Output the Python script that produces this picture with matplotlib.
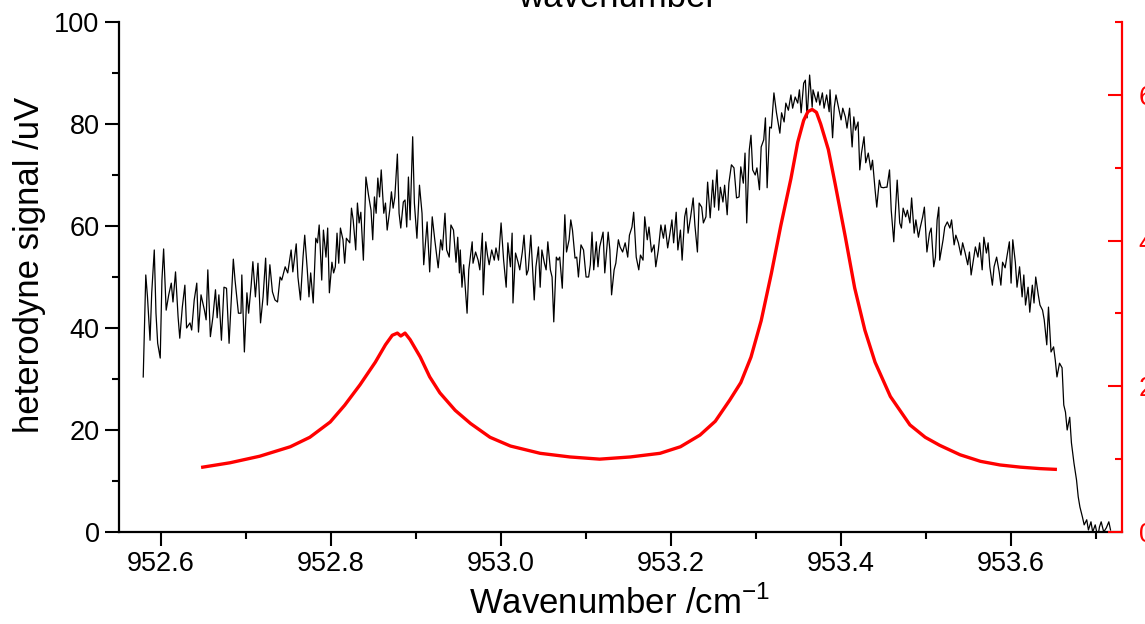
import matplotlib
matplotlib.use("Agg")
import matplotlib.pyplot as plt
from matplotlib.ticker import MultipleLocator, FormatStrFormatter

plt.rcParams['font.family'] = ['Liberation Sans', 'DejaVu Sans']
plt.rcParams['mathtext.fontset'] = 'custom'
plt.rcParams['mathtext.rm'] = 'Liberation Sans'

# ---- heterodyne signal (left axis, uV) ----
sig_x = [
 952.579, 952.582, 952.584, 952.587, 952.589, 952.592, 952.594, 952.596, 952.599, 952.601,
 952.603, 952.606, 952.609, 952.612, 952.614, 952.617, 952.620, 952.622, 952.625, 952.628,
 952.630, 952.634, 952.636, 952.639, 952.642, 952.644, 952.647, 952.651, 952.653, 952.655,
 952.658, 952.661, 952.664, 952.666, 952.668, 952.671, 952.674, 952.677, 952.680, 952.685,
 952.687, 952.691, 952.694, 952.695, 952.698, 952.701, 952.703, 952.706, 952.708, 952.711,
 952.714, 952.717, 952.720, 952.723, 952.725, 952.728, 952.731, 952.734, 952.737, 952.740,
 952.742, 952.746, 952.749, 952.753, 952.755, 952.759, 952.761,
 952.764, 952.767, 952.769, 952.772, 952.774, 952.776, 952.779, 952.782, 952.784, 952.786,
 952.789, 952.791, 952.794, 952.796, 952.798, 952.801, 952.803, 952.805, 952.807, 952.809,
 952.811, 952.814, 952.816, 952.818, 952.822, 952.824, 952.826, 952.829, 952.831, 952.833,
 952.835, 952.838, 952.841, 952.844, 952.847, 952.849, 952.851, 952.853, 952.855, 952.857,
 952.859, 952.862, 952.864, 952.866, 952.869, 952.871, 952.873, 952.875, 952.878, 952.880,
 952.882, 952.885, 952.887, 952.889, 952.891, 952.893, 952.896, 952.898, 952.901, 952.904,
 952.907, 952.909, 952.913, 952.916, 952.919, 952.922, 952.926, 952.929, 952.931, 952.934,
 952.936, 952.939, 952.941, 952.944, 952.947, 952.949, 952.951,
 952.952, 952.954, 952.956, 952.960, 952.962, 952.966, 952.967, 952.970, 952.973, 952.975,
 952.978, 952.979, 952.982, 952.984, 952.986, 952.989, 952.992, 952.994, 952.997, 953.000,
 953.003, 953.006, 953.008, 953.011, 953.013, 953.014, 953.017, 953.020, 953.022, 953.025,
 953.027, 953.030, 953.032, 953.035, 953.037, 953.039, 953.041, 953.044, 953.046, 953.048,
 953.051, 953.053, 953.055, 953.058, 953.060, 953.062, 953.065, 953.067, 953.069, 953.072,
 953.075, 953.077, 953.080, 953.082, 953.084, 953.087, 953.089, 953.091, 953.094, 953.097,
 953.100, 953.103, 953.105, 953.107, 953.109, 953.112, 953.114, 953.116, 953.120, 953.122,
 953.126, 953.128, 953.130, 953.133, 953.135, 953.138, 953.140,
 953.143, 953.146, 953.149, 953.151, 953.154, 953.156, 953.159, 953.162, 953.164, 953.167,
 953.169, 953.172, 953.174, 953.177, 953.180, 953.182, 953.185, 953.188, 953.191, 953.193,
 953.196, 953.198, 953.201, 953.203, 953.206, 953.208, 953.211, 953.213, 953.216, 953.218,
 953.220, 953.223, 953.226, 953.228, 953.231, 953.233, 953.236, 953.238, 953.241, 953.243,
 953.246, 953.249, 953.251, 953.254, 953.256, 953.258, 953.261, 953.263, 953.266, 953.268,
 953.271, 953.274, 953.277, 953.280, 953.282, 953.285, 953.287, 953.289, 953.292, 953.294,
 953.296, 953.299, 953.301, 953.304, 953.306, 953.309, 953.311, 953.313, 953.316, 953.318,
 953.321, 953.324, 953.326,
 953.328, 953.330, 953.333, 953.335, 953.338, 953.341, 953.343, 953.346, 953.349, 953.351,
 953.353, 953.356, 953.358, 953.360, 953.363, 953.366, 953.367, 953.371, 953.373, 953.375,
 953.378, 953.380, 953.383, 953.386, 953.387, 953.390, 953.392, 953.394, 953.397, 953.400,
 953.402, 953.405, 953.407, 953.410, 953.413, 953.415, 953.417, 953.420, 953.422, 953.424,
 953.427, 953.429, 953.432, 953.435, 953.437, 953.440, 953.442, 953.445, 953.447, 953.450,
 953.452, 953.454, 953.457, 953.459, 953.462, 953.464, 953.466, 953.469, 953.471, 953.473,
 953.476, 953.478, 953.481, 953.483, 953.486, 953.488, 953.491, 953.493, 953.496, 953.498,
 953.501, 953.504, 953.506, 953.509, 953.511, 953.513, 953.515,
 953.516, 953.520, 953.522, 953.525, 953.528, 953.530, 953.533, 953.535, 953.538, 953.541,
 953.543, 953.546, 953.549, 953.551, 953.553, 953.556, 953.558, 953.561, 953.563, 953.566,
 953.568, 953.571, 953.573, 953.575, 953.578, 953.580, 953.583, 953.586, 953.588, 953.590,
 953.593, 953.595, 953.598, 953.600, 953.602, 953.605, 953.607, 953.610, 953.613, 953.615,
 953.617, 953.620, 953.622, 953.625, 953.627, 953.629, 953.632, 953.634, 953.637, 953.639,
 953.642, 953.644, 953.647, 953.650, 953.652, 953.654, 953.657, 953.660, 953.662, 953.664,
 953.666, 953.669, 953.671, 953.674, 953.677, 953.679, 953.681, 953.684, 953.686, 953.689,
 953.691, 953.694, 953.696, 953.699, 953.702, 953.704, 953.706, 953.709, 953.712, 953.715,
 953.717,
]
sig_y = [
 30.4, 50.4, 46.1, 37.6, 46.9, 55.3, 42.9, 37.0, 34.1, 49.4,
 55.5, 43.5, 46.5, 48.8, 45.1, 51.0, 42.2, 38.0, 44.1, 48.4,
 40.0, 41.0, 39.6, 45.5, 48.8, 39.2, 46.5, 43.5, 41.6, 51.4,
 38.3, 42.2, 47.5, 42.0, 46.5, 37.6, 48.0, 47.8, 37.0, 53.5,
 49.4, 42.9, 42.9, 50.4, 35.3, 46.9, 42.9, 48.4, 53.0, 46.1,
 52.7, 41.0, 46.1, 53.7, 44.5, 52.4, 47.1, 45.5, 45.1, 50.0,
 49.4, 52.0, 50.8, 55.3, 51.0, 56.5, 50.0,
 45.5, 53.9, 58.2, 51.4, 46.1, 50.8, 44.9, 57.6, 56.7, 60.2,
 49.4, 59.2, 53.9, 59.6, 46.9, 52.9, 50.8, 52.0, 58.6, 52.7,
 59.6, 57.3, 52.7, 57.6, 56.7, 63.5, 61.2, 55.3, 64.5, 60.6,
 62.7, 53.3, 69.6, 66.1, 63.1, 57.3, 65.7, 62.5, 69.4, 65.7,
 71.0, 62.5, 64.5, 59.2, 63.1, 66.7, 63.5, 65.7, 74.1, 62.5,
 59.6, 64.7, 65.1, 59.8, 69.6, 61.2, 77.5, 64.5, 57.6, 68.0,
 62.5, 52.4, 60.8, 51.0, 61.8, 57.3, 51.8, 57.3, 55.3, 62.5,
 55.3, 53.9, 60.2, 59.2, 52.9, 57.8, 50.8,
 55.3, 48.0, 52.4, 42.9, 51.4, 56.9, 52.7, 54.9, 53.3, 51.4,
 58.6, 46.5, 56.9, 54.3, 52.4, 55.3, 53.3, 55.7, 53.3, 60.6,
 53.3, 48.0, 56.7, 52.0, 58.6, 44.9, 54.7, 52.9, 51.4, 54.9,
 58.2, 50.4, 51.4, 58.2, 52.0, 45.5, 52.0, 55.9, 48.0, 55.3,
 52.7, 51.4, 56.9, 51.4, 50.0, 41.2, 53.9, 53.3, 53.9, 47.8,
 62.2, 54.9, 57.3, 61.2, 59.2, 53.7, 53.9, 50.0, 56.3, 55.3,
 50.0, 50.0, 52.4, 58.8, 51.4, 56.9, 52.0, 55.9, 58.8, 50.8,
 58.8, 55.3, 46.5, 51.4, 52.7, 57.3, 55.9,
 54.9, 56.7, 53.9, 58.2, 59.8, 62.7, 53.9, 51.4, 54.3, 53.3,
 61.8, 57.3, 59.8, 54.9, 56.3, 52.0, 55.3, 60.2, 57.6, 60.2,
 55.7, 57.8, 61.2, 56.7, 62.7, 55.3, 59.2, 53.3, 61.8, 63.5,
 58.6, 61.8, 65.5, 60.2, 54.9, 64.5, 63.7, 60.6, 61.8, 68.6,
 61.6, 69.0, 63.7, 71.0, 63.1, 67.6, 64.7, 68.0, 62.2, 68.4,
 72.0, 71.4, 65.5, 65.7, 71.6, 68.4, 74.3, 60.6, 74.9, 77.8,
 71.0, 70.0, 71.4, 67.1, 75.5, 76.9, 81.2, 67.5, 79.4, 79.2,
 86.1, 82.2, 80.2,
 78.2, 82.2, 80.4, 84.1, 82.7, 85.7, 83.1, 85.3, 84.1, 86.7,
 82.2, 88.0, 88.6, 81.2, 89.6, 83.3, 86.7, 84.3, 86.3, 83.7,
 86.1, 83.1, 85.7, 82.4, 86.7, 77.3, 83.3, 85.7, 83.3, 80.8,
 83.1, 81.4, 79.2, 83.1, 75.5, 81.4, 78.8, 80.4, 71.0, 74.3,
 77.5, 72.4, 74.3, 71.0, 72.9, 67.1, 63.7, 69.0, 67.6, 67.5,
 67.6, 67.6, 71.0, 63.1, 56.9, 63.1, 69.0, 60.6, 59.6, 63.5,
 61.8, 63.1, 60.6, 65.5, 58.6, 61.2, 57.8, 59.6, 61.8, 63.7,
 54.9, 58.6, 59.6, 52.0, 53.9, 61.2, 63.7,
 53.3, 57.3, 59.8, 60.8, 59.6, 61.2, 56.3, 58.2, 56.7, 54.3,
 56.7, 54.7, 52.4, 54.9, 50.4, 53.7, 55.9, 53.9, 56.7, 51.4,
 57.8, 54.7, 56.7, 52.0, 48.4, 52.0, 53.9, 51.0, 48.4, 52.9,
 51.8, 53.9, 56.9, 48.8, 57.3, 52.9, 48.0, 52.0, 46.1, 50.4,
 44.5, 48.0, 43.1, 48.4, 44.9, 50.0, 46.5, 44.5, 43.5, 41.6,
 36.7, 44.1, 35.3, 36.3, 33.7, 30.4, 33.1, 32.2, 24.9, 23.5,
 20.0, 22.5, 17.5, 13.5, 10.2, 6.9, 4.9, 2.9, 1.4, 2.4,
 0.4, 2.0, 0.0, 1.4, -1.0, 1.0, 2.0, 0.0, 0.8, 2.0,
 0.4,
]

# ---- simulated spectrum (right axis, red) ----
sim_x = [
 952.649, 952.681, 952.716, 952.752, 952.775, 952.799, 952.816, 952.834, 952.852, 952.864,
 952.872, 952.878, 952.882, 952.887, 952.893, 952.905, 952.916, 952.928, 952.946, 952.964,
 952.987, 953.011, 953.046, 953.081, 953.116, 953.152, 953.187, 953.211, 953.234, 953.252,
 953.269, 953.282, 953.294, 953.306, 953.318, 953.329, 953.341, 953.349, 953.356, 953.361,
 953.366, 953.371, 953.376, 953.385, 953.393, 953.405, 953.416, 953.428, 953.440, 953.458,
 953.481, 953.499, 953.516, 953.540, 953.564, 953.587, 953.611, 953.634, 953.652,
]
sim_y = [
 0.89, 0.95, 1.04, 1.17, 1.30, 1.51, 1.74, 2.02, 2.33, 2.57,
 2.70, 2.73, 2.69, 2.73, 2.64, 2.40, 2.13, 1.91, 1.67, 1.49,
 1.30, 1.18, 1.08, 1.03, 1.00, 1.03, 1.08, 1.17, 1.33, 1.52,
 1.81, 2.05, 2.40, 2.90, 3.55, 4.20, 4.85, 5.35, 5.65, 5.77,
 5.80, 5.76, 5.60, 5.25, 4.78, 4.05, 3.35, 2.77, 2.33, 1.86,
 1.47, 1.30, 1.19, 1.06, 0.97, 0.92, 0.89, 0.87, 0.86,
]

W, H = 1145, 624
fig = plt.figure(figsize=(W / 100, H / 100), dpi=100)
L, R, B, T = 119, 1122, 532, 22
ax = fig.add_axes([L / W, 1 - B / H, (R - L) / W, (B - T) / H])

ax.plot(sig_x, sig_y, color='black', lw=0.9)
ax.set_xlim(952.5505, 953.7305)
ax.set_ylim(0, 100)

tick_fs = 19.5
ax.xaxis.set_major_locator(MultipleLocator(0.2))
ax.xaxis.set_minor_locator(MultipleLocator(0.1))
ax.xaxis.set_major_formatter(FormatStrFormatter('%.1f'))
ax.yaxis.set_major_locator(MultipleLocator(20))
ax.yaxis.set_minor_locator(MultipleLocator(10))
ax.tick_params(axis='both', which='major', direction='out', length=10, width=1.5,
               labelsize=tick_fs, pad=4)
ax.tick_params(axis='both', which='minor', direction='out', length=5, width=1.5)
ax.tick_params(top=False, right=False, which='both')
for s in ['left', 'bottom']:
    ax.spines[s].set_linewidth(1.6)
ax.spines['top'].set_visible(False)
ax.spines['right'].set_visible(False)

ax2 = ax.twinx()
ax2.plot(sim_x, sim_y, color='#ff0000', lw=2.4, solid_joinstyle='round')
ax2.set_ylim(0, 7)
ax2.yaxis.set_major_locator(MultipleLocator(2))
ax2.yaxis.set_minor_locator(MultipleLocator(1))
ax2.tick_params(axis='y', which='major', direction='in', length=10, width=1.5,
                labelsize=tick_fs, pad=12, colors='#ff0000')
ax2.tick_params(axis='y', which='minor', direction='in', length=5, width=1.5, colors='#ff0000')
for s in ['left', 'top', 'bottom']:
    ax2.spines[s].set_visible(False)
ax2.spines['right'].set_color('#ff0000')
ax2.spines['right'].set_linewidth(1.6)

lab_fs = 25
fig.text(30 / W, 1 - 265 / H, 'heterodyne signal /uV', rotation=90,
         ha='center', va='center', fontsize=lab_fs)
fig.text(620 / W, 1 - 603 / H, 'Wavenumber /cm$^{\\mathregular{-1}}$',
         ha='center', va='center', fontsize=lab_fs)
fig.text(618 / W, 1 - 7 / H, 'wavenumber', ha='center', va='baseline', fontsize=lab_fs)

fig.savefig('out.png', dpi=100)
